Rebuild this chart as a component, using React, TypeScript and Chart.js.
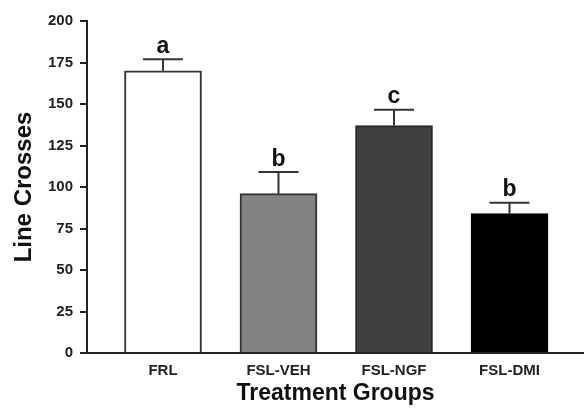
import React, { useEffect, useRef } from "react";
import { Chart, registerables } from "chart.js";

Chart.register(...registerables);

const categories = ["FRL", "FSL-VEH", "FSL-NGF", "FSL-DMI"];
const means = [170, 96, 137, 84];
const sems = [7, 13, 9.5, 6.5];
const letters = ["a", "b", "c", "b"];
const barColors = ["#ffffff", "#838383", "#404040", "#000000"];
const borderColors = ["#333333", "#333333", "#262626", "#000000"];
const positions = [1, 2, 3, 4];

const FONT = "Arial, 'Liberation Sans', Helvetica, sans-serif";

const errorPlugin = {
  id: "errorBarsLetters",
  afterDatasetsDraw(chart: any) {
    const { ctx, scales } = chart;
    const xs = scales.x;
    const ys = scales.y;
    ctx.save();
    positions.forEach((p, i) => {
      const cx = xs.getPixelForValue(p);
      const yTop = ys.getPixelForValue(means[i]);
      const yErr = ys.getPixelForValue(means[i] + sems[i]);
      ctx.strokeStyle = "#333333";
      ctx.lineWidth = 2;
      ctx.beginPath();
      ctx.moveTo(cx, yTop);
      ctx.lineTo(cx, yErr);
      ctx.moveTo(cx - 20, yErr);
      ctx.lineTo(cx + 20, yErr);
      ctx.stroke();
      ctx.fillStyle = "#111111";
      ctx.font = `bold 23px ${FONT}`;
      ctx.textAlign = "center";
      ctx.textBaseline = "alphabetic";
      ctx.fillText(letters[i], cx, yErr - 6.5);
    });
    ctx.restore();
  },
};

export default function App() {
  const ref = useRef<HTMLCanvasElement | null>(null);

  useEffect(() => {
    if (!ref.current) return;
    const chart = new Chart(ref.current, {
      type: "bar",
      data: {
        datasets: [
          {
            data: positions.map((p, i) => ({ x: p, y: means[i] })),
            backgroundColor: barColors,
            borderColor: borderColors,
            borderWidth: 2,
            barThickness: 77,
          },
        ],
      },
      options: {
        responsive: false,
        animation: false,
        layout: { padding: { top: 21, right: 0, bottom: 0, left: 0 } },
        plugins: {
          legend: { display: false },
          tooltip: { enabled: false },
        },
        scales: {
          x: {
            type: "linear",
            offset: false,
            min: 0.342,
            max: 4.645,
            afterBuildTicks: (scale: any) => {
              scale.ticks = positions.map((v) => ({ value: v }));
            },
            afterFit: (scale: any) => {
              scale.height = 55;
            },
            grid: { display: false, drawTicks: false },
            border: { display: true, color: "#222222", width: 2 },
            ticks: {
              padding: 9,
              color: "#222222",
              font: { family: FONT, size: 15, weight: "bold" },
              callback: (v: any) => categories[Math.round(Number(v)) - 1] ?? "",
            },
            title: {
              display: true,
              text: "Treatment Groups",
              color: "#111111",
              font: { family: FONT, size: 23, weight: "bold" },
              padding: { top: 0, bottom: 1 },
            },
          },
          y: {
            min: 0,
            max: 200,
            afterFit: (scale: any) => {
              scale.width = 87;
            },
            grid: {
              display: true,
              drawOnChartArea: false,
              drawTicks: true,
              tickLength: 7,
              color: "#222222",
              lineWidth: 2,
            },
            border: { display: true, color: "#222222", width: 2 },
            ticks: {
              stepSize: 25,
              padding: 7,
              color: "#222222",
              font: { family: FONT, size: 15, weight: "bold" },
            },
            title: {
              display: true,
              text: "Line Crosses",
              color: "#111111",
              font: { family: FONT, size: 24, weight: "bold" },
              padding: { top: 10, bottom: 0 },
            },
          },
        },
      },
      plugins: [errorPlugin],
    } as any);
    return () => chart.destroy();
  }, []);

  return (
    <div style={{ position: "fixed", left: 0, top: 0, width: 584, height: 408, background: "#fff" }}>
      <canvas ref={ref} width={584} height={408} style={{ width: 584, height: 408, display: "block" }} />
    </div>
  );
}
